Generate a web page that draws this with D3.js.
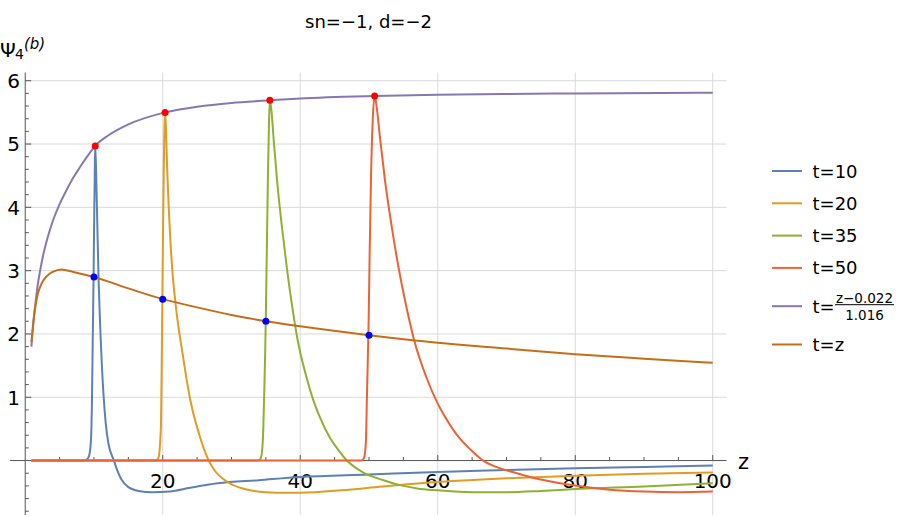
<!DOCTYPE html>
<html>
<head>
<meta charset="utf-8">
<script src="https://cdn.jsdelivr.net/npm/d3@7"></script>
<style>
	body { margin:0; background:#fff; }
	text { font-family:"DejaVu Sans", sans-serif; fill:#000; }
</style>
</head>
<body>
<script>
// ************************************************************************************
// DATA
// ************************************************************************************
var tValues  = [10, 20, 35, 50]
  , peakZ    = [10.18, 20.34, 35.58, 50.82]
  , peakVal  = [4.97, 5.5, 5.69, 5.76]
  , crossVal = [2.9, 2.55, 2.2, 1.98]
  , xTicks   = [20, 40, 60, 80, 100]
  , yTicks   = [1, 2, 3, 4, 5, 6]
  , labels   = ["t=10", "t=20", "t=35", "t=50", "frac", "t=z"]
  , colors   = ["#5E81B5", "#E19C24", "#8FB032", "#EB6235", "#8778B3", "#C56E1A"]

var psi10 = [[0.9,0],[8.6,0],[9.0,0.02],[9.3,0.08],[9.55,0.3],[9.7,0.9],[9.82,1.9],[9.95,3.0],
	[10.05,4.0],[10.12,4.6],[10.18,4.97],[10.3,4.6],[10.45,3.9],[10.65,2.95],[10.95,2.0],[11.35,1.1],
	[11.7,0.6],[12.1,0.27],[12.9,0],[13.4,-0.16],[14,-0.3],[15,-0.42],[16.5,-0.48],[18.5,-0.5],
	[21,-0.49],[24,-0.43],[28,-0.36],[34,-0.31],[40,-0.26],[50,-0.22],[60,-0.18],[70,-0.15],
	[80,-0.12],[90,-0.1],[100,-0.08]]

var psi20 = [[0.9,0],[19.0,0],[19.4,0.05],[19.6,0.25],[19.75,0.6],[19.85,1.5],[19.95,2.6],[20.05,3.7],
	[20.15,4.6],[20.25,5.25],[20.34,5.5],[20.45,5.3],[20.65,4.6],[20.85,4.05],[21.05,3.6],[21.4,3.0],
	[21.8,2.54],[22.3,2.1],[22.8,1.75],[23.4,1.33],[24.0,0.96],[24.7,0.64],[25.4,0.38],[26.0,0.18],
	[26.6,0.02],[27.5,-0.15],[29.3,-0.33],[31,-0.42],[32.7,-0.47],[35,-0.5],[38,-0.51],[42,-0.5],
	[46,-0.47],[52,-0.41],[60,-0.34],[70,-0.28],[80,-0.24],[90,-0.21],[100,-0.19]]

var psi35 = [[0.9,0],[33.9,0],[34.3,0.05],[34.55,0.3],[34.75,1.0],[34.9,1.7],[35.0,2.3],[35.15,3.4],
	[35.3,4.5],[35.45,5.3],[35.58,5.69],[35.79,5.55],[36.15,5.05],[36.65,4.4],[37.36,3.67],[38.08,3.02],
	[38.78,2.47],[39.63,1.9],[40.98,1.29],[42.08,0.9],[42.68,0.73],[44.38,0.35],[45.53,0.17],[46.8,0],
	[49,-0.18],[52.1,-0.31],[55,-0.4],[57,-0.44],[60,-0.47],[65,-0.5],[70,-0.5],[75,-0.48],[80,-0.45],
	[90,-0.41],[100,-0.36]]

var psi50 = [[0.9,0],[48.9,0],[49.3,0.05],[49.55,0.3],[49.7,1.0],[49.85,1.7],[49.95,2.2],[50.1,3.3],
	[50.3,4.5],[50.55,5.4],[50.82,5.76],[51.1,5.6],[51.6,5.1],[52.3,4.45],[53.3,3.7],[54.3,3.05],
	[55.3,2.5],[56.5,1.93],[58.4,1.3],[60,0.9],[60.8,0.74],[63.2,0.35],[64.8,0.17],[66.6,0],
	[68.5,-0.1],[71.5,-0.2],[75,-0.3],[79.7,-0.39],[85,-0.46],[90,-0.49],[95,-0.5],[100,-0.49]]

var psiFrac = [[0.9,1.8],[1.2,2.2],[1.5,2.5],[1.8,2.76],[2.2,3.02],[2.6,3.24],[3.2,3.5],[4,3.78],
	[5,4.05],[6,4.27],[7,4.47],[8,4.64],[9,4.8],[10.18,4.97],[12,5.13],[15,5.31],[20.34,5.5],
	[25,5.59],[30,5.65],[35.58,5.69],[40,5.72],[50.82,5.76],[60,5.78],[70,5.79],[80,5.80],[100,5.81]]

var psiZ = [[0.9,1.87],[1.2,2.2],[1.5,2.45],[1.8,2.62],[2.2,2.75],[2.6,2.84],[3.2,2.92],[4,2.98],
	[5.3,3.02],[7,2.98],[10,2.9],[15,2.72],[20,2.55],[25,2.42],[30,2.3],[35,2.2],[40,2.12],[50,1.98],
	[60,1.86],[70,1.77],[80,1.68],[90,1.61],[100,1.545]]

var series = [psi10, psi20, psi35, psi50, psiFrac, psiZ]

// ************************************************************************************
// SCALES
// ************************************************************************************
var W = 909, H = 517
  , x = d3.scaleLinear().domain([-2.2, 102]).range([10.1, 726.5])
  , y = d3.scaleLinear().domain([-0.86, 6.13]).range([515, 72.5])

var svg = d3.select("body").append("svg")
	.attr("width", W).attr("height", H)

svg.append("rect").attr("width", W).attr("height", H).attr("fill", "#fff")

// ************************************************************************************
// GRID
// ************************************************************************************
svg.append("g").selectAll("line").data(xTicks).join("line")
	.attr("x1", d => x(d)).attr("x2", d => x(d))
	.attr("y1", y.range()[1]).attr("y2", y.range()[0])
	.attr("stroke", "#d9d9d9").attr("stroke-width", 1)

svg.append("g").selectAll("line").data(yTicks).join("line")
	.attr("x1", x(0)).attr("x2", x.range()[1])
	.attr("y1", d => y(d)).attr("y2", d => y(d))
	.attr("stroke", "#d9d9d9").attr("stroke-width", 1)

// ************************************************************************************
// AXES (mathematica style, through the origin)
// ************************************************************************************
var axisCol = "#555"
  , ax = svg.append("g")

ax.append("line")
	.attr("x1", x.range()[0]).attr("x2", x.range()[1])
	.attr("y1", y(0)).attr("y2", y(0))
	.attr("stroke", axisCol)
ax.append("line")
	.attr("x1", x(0)).attr("x2", x(0))
	.attr("y1", y.range()[1]).attr("y2", y.range()[0])
	.attr("stroke", axisCol)

// x ticks every 5, long on the labelled ones
ax.selectAll(".xt").data(d3.range(5, 101, 5)).join("line")
	.attr("x1", d => x(d)).attr("x2", d => x(d))
	.attr("y1", y(0)).attr("y2", d => y(0) - (d % 20 == 0 ? 5.5 : 3.5))
	.attr("stroke", axisCol)

// y ticks every 0.2
ax.selectAll(".yt").data(d3.range(-4, 31).filter(i => i != 0)).join("line")
	.attr("x1", x(0)).attr("x2", i => x(0) + (i % 5 == 0 ? 6 : 3.5))
	.attr("y1", i => y(i / 5)).attr("y2", i => y(i / 5))
	.attr("stroke", axisCol)

ax.selectAll(".xl").data(xTicks).join("text")
	.attr("x", d => x(d)).attr("y", 488)
	.attr("text-anchor", "middle").attr("font-size", 20)
	.text(d => d)

ax.selectAll(".yl").data(yTicks).join("text")
	.attr("x", 20).attr("y", d => y(d) + 7.3)
	.attr("text-anchor", "end").attr("font-size", 20)
	.text(d => d)

svg.append("text").attr("x", 738).attr("y", 469).attr("font-size", 21).text("z")

svg.append("text").attr("x", 0).attr("y", 57).attr("font-size", 20).text("Ψ")
svg.append("text").attr("x", 15).attr("y", 59).attr("font-size", 14).text("4")
svg.append("text").attr("x", 24).attr("y", 49).attr("font-size", 15)
	.attr("font-style", "italic").text("(b)")

svg.append("text").attr("x", 368.5).attr("y", 28)
	.attr("text-anchor", "middle").attr("font-size", 18)
	.text("sn=\u22121, d=\u22122")

// ************************************************************************************
// CURVES
// ************************************************************************************
var line = d3.line()
	.x(d => x(d[0])).y(d => y(d[1]))
	.curve(d3.curveMonotoneX)

svg.append("g").selectAll("path").data(series).join("path")
	.attr("d", line)
	.attr("fill", "none")
	.attr("stroke", (d, i) => colors[i])
	.attr("stroke-width", 2)
	.attr("stroke-linejoin", "round")

// points on the curves
svg.append("g").selectAll("circle").data(tValues).join("circle")
	.attr("cx", (d, i) => x(peakZ[i])).attr("cy", (d, i) => y(peakVal[i]))
	.attr("r", 3.5).attr("fill", "#ff0000")

svg.append("g").selectAll("circle").data(tValues).join("circle")
	.attr("cx", d => x(d)).attr("cy", (d, i) => y(crossVal[i]))
	.attr("r", 3.5).attr("fill", "#0000ff")

// ************************************************************************************
// LEGEND
// ************************************************************************************
var leg = svg.append("g")
  , rowY = function (i) { return 171 + i * 32.3 + (i >= 4 ? 6 : 0) + (i >= 5 ? 6 : 0) }

labels.forEach(function (lab, i) {
	var ry = rowY(i)
	leg.append("line")
		.attr("x1", 772).attr("x2", 802).attr("y1", ry).attr("y2", ry)
		.attr("stroke", colors[i]).attr("stroke-width", 2)
	if (lab != "frac") {
		leg.append("text").attr("x", 812.5).attr("y", ry + 6.5)
			.attr("font-size", 18).text(lab)
	} else {
		leg.append("text").attr("x", 812.5).attr("y", ry + 6.5)
			.attr("font-size", 18).text("t=")
		leg.append("text").attr("x", 864.5).attr("y", ry - 3.5)
			.attr("text-anchor", "middle").attr("font-size", 13.5).text("z\u22120.022")
		leg.append("line").attr("x1", 835).attr("x2", 894)
			.attr("y1", ry - 1.5).attr("y2", ry - 1.5)
			.attr("stroke", "#000").attr("stroke-width", 1)
		leg.append("text").attr("x", 864.5).attr("y", ry + 13.5)
			.attr("text-anchor", "middle").attr("font-size", 13.5).text("1.016")
	}
})
</script>
</body>
</html>
